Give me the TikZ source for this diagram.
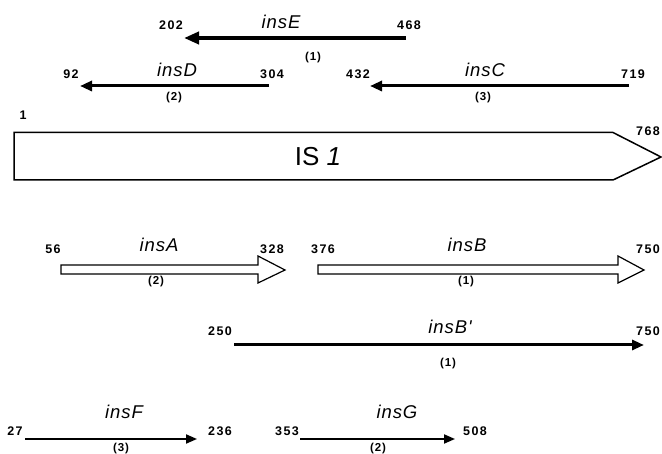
\documentclass[tikz,border=0pt]{standalone}
\usepackage{fontspec}
\setmainfont{Liberation Sans}
\newfontfamily\numfont[LetterSpace=12]{Liberation Sans}
\newfontfamily\frfont[LetterSpace=8]{Liberation Sans}
\newfontfamily\genefont[LetterSpace=5]{Liberation Sans}
\usetikzlibrary{arrows.meta}
\begin{document}
\begin{tikzpicture}[x=1pt,y=-1pt,
  num/.style={font=\numfont\fontsize{12.5}{14}\selectfont\bfseries, inner sep=0pt},
  gene/.style={font=\genefont\fontsize{18.5}{20}\selectfont\itshape, inner sep=0pt},
  frame/.style={font=\frfont\fontsize{11.5}{13}\selectfont\bfseries, inner sep=0pt},
  thickarrow/.style={line width=4pt, -{Triangle[length=15pt,width=12pt]}},
  midarrow/.style={line width=3pt, -{Triangle[length=12pt,width=10pt]}},
  thinarrow/.style={line width=2pt, -{Triangle[length=11pt,width=9pt]}},
  hollow/.style={draw, line width=1.2pt, fill=white, line join=miter}
]
\useasboundingbox (0,0) rectangle (662,454);
% insE
\coordinate (eS) at (406,38); \coordinate (eE) at (184,38);
\draw[thickarrow] (eS) -- (eE);
\node[num] (e1) at (171,25) {202};
\node[gene] (eg) at (281,22) {insE};
\node[num] (e2) at (409,25) {468};
\node[frame] (ef) at (313,58) {(1)};
% insD
\coordinate (dS) at (269,86); \coordinate (dE) at (80,86);
\draw[midarrow] (dS) -- (dE);
\node[num] (d1) at (71,74) {92};
\node[gene] (dg) at (177,70) {insD};
\node[num] (d2) at (272,74) {304};
\node[frame] (df) at (174,98) {(2)};
% insC
\coordinate (cS) at (629,86); \coordinate (cE) at (370,86);
\draw[midarrow] (cS) -- (cE);
\node[num] (c1) at (358,74) {432};
\node[gene] (cg) at (485,70) {insC};
\node[num] (c2) at (633,74) {719};
\node[frame] (cf) at (483,98) {(3)};
% IS1
\node[num] (one) at (23,115) {1};
\draw[line width=1.5pt, line join=miter] (14,132.5) -- (613,132.5) -- (661,157) -- (613,180) -- (14,180) -- cycle;
\node[font=\fontsize{26}{28}\selectfont, inner sep=0pt] (is) at (318,157) {IS \textit{1}};
\node[num] (end) at (648,131) {768};
% insA
\draw[hollow] (61,265) -- (258,265) -- (258,256) -- (285,270) -- (258,283) -- (258,274) -- (61,274) -- cycle;
\node[num] (a1) at (53,249) {56};
\node[gene] (ag) at (159,245) {insA};
\node[num] (a2) at (272,249) {328};
\node[frame] (af) at (156,282) {(2)};
% insB
\draw[hollow] (318,265) -- (618,265) -- (618,256) -- (644,270) -- (618,283) -- (618,274) -- (318,274) -- cycle;
\node[num] (b1) at (323,249) {376};
\node[gene] (bg) at (467,245) {insB};
\node[num] (b2) at (648,249) {750};
\node[frame] (bf) at (466,282) {(1)};
% insB'
\coordinate (pS) at (234,345); \coordinate (pE) at (644,345);
\draw[midarrow] (pS) -- (pE);
\node[num] (p1) at (220,331) {250};
\node[gene] (pg) at (450,327) {insB'};
\node[num] (p2) at (648,331) {750};
\node[frame] (pf) at (448,364) {(1)};
% insF
\coordinate (fS) at (25,439); \coordinate (fE) at (197,439);
\draw[thinarrow] (fS) -- (fE);
\node[num] (f1) at (15,431) {27};
\node[gene] (fg) at (124,412) {insF};
\node[num] (f2) at (220,431) {236};
\node[frame] (ff) at (121,449) {(3)};
% insG
\coordinate (gS) at (300,439); \coordinate (gE) at (455,439);
\draw[thinarrow] (gS) -- (gE);
\node[num] (g1) at (287,431) {353};
\node[gene] (gg) at (397,412) {insG};
\node[num] (g2) at (475,431) {508};
\node[frame] (gf) at (378,449) {(2)};
\end{tikzpicture}
\end{document}
